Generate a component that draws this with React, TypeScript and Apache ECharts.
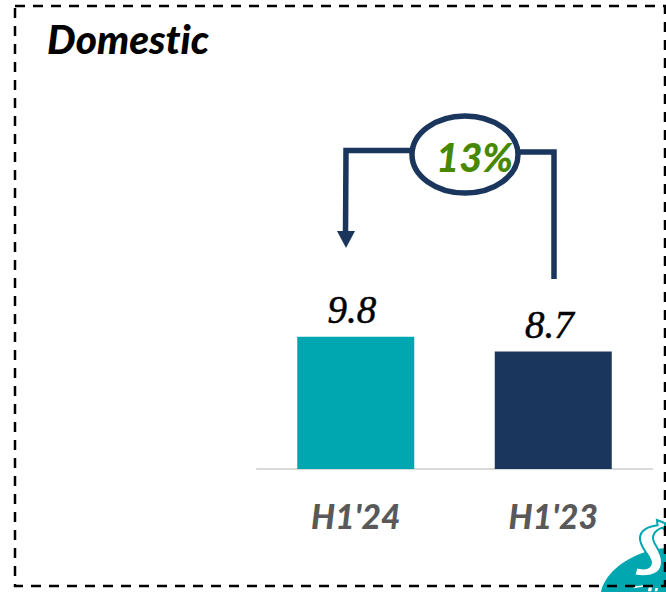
import React, { useEffect, useRef } from "react";
import * as echarts from "echarts";

const categories = ["H1'24", "H1'23"];
const values = [9.8, 8.7];
const barColors = ["#00A7B0", "#1A365D"];
const titleText = "Domestic";
const growthText = "13%";

const NAVY = "#1A365D";
const TEAL = "#00A7B0";

echarts.graphic.registerShape(
  "logoS",
  echarts.graphic.extendPath(
    "M183 12 L208 22 L205 40 L198 35 C175 45 165 60 175 80 C190 105 205 130 195 155 C185 180 150 185 115 178 L122 155 C145 160 165 158 165 140 C165 120 130 95 132 65 C134 45 155 32 185 28 Z",
    {}
  )
);
echarts.graphic.registerShape(
  "logoMarks",
  echarts.graphic.extendPath(
    "M112 212 L150 207 L150 211 L112 217 Z M158 214 L168 214 L166 226 L156 226 Z M178 216 L186 216 L184 226 L176 226 Z",
    {}
  )
);

export default function App() {
  const ref = useRef<HTMLDivElement>(null);
  useEffect(() => {
    const chart = echarts.init(ref.current!, undefined, { renderer: "svg" });
    chart.setOption({
      animation: false,
      backgroundColor: "#ffffff",
      grid: { left: 257, right: 14, top: 307, bottom: 123, containLabel: false },
      xAxis: {
        type: "category",
        data: categories,
        axisLine: { lineStyle: { color: "#D9D9D9", width: 2 } },
        axisTick: { show: false },
        axisLabel: {
          margin: 30,
          fontFamily: "Lato",
          fontWeight: 900,
          fontStyle: "italic",
          fontSize: 33.5,
          color: "#595959",
        },
      },
      yAxis: { type: "value", min: 0, max: 12, show: false, splitLine: { show: false } },
      series: [
        {
          type: "bar",
          barWidth: 117,
          data: values.map((v, i) => ({ value: v, itemStyle: { color: barColors[i] } })),
          label: {
            show: true,
            position: "top",
            distance: 8,
            offset: [-4, 0],
            fontFamily: "Liberation Serif",
            fontStyle: "italic",
            fontSize: 39,
            color: "#000000",
            textBorderColor: "#000000",
            textBorderWidth: 0.5,
            formatter: (p: any) => p.value.toFixed(1),
          },
        },
      ],
      graphic: [
        {
          type: "rect",
          shape: { x: 15, y: 6, width: 650, height: 580 },
          style: { fill: "none", stroke: "#000000", lineWidth: 2.5, lineDash: [10, 8] },
          z: 13,
        },
        {
          type: "text",
          x: 47,
          y: 38,
          style: {
            text: titleText,
            fontFamily: "Lato",
            fontWeight: 900,
            fontStyle: "italic",
            fontSize: 40.5,
            fill: "#000000",
            verticalAlign: "middle",
          },
        },
        {
          type: "polyline",
          shape: { points: [[412, 150.5], [346, 150.5], [345.5, 234]] },
          style: { fill: "none", stroke: NAVY, lineWidth: 5.5 },
        },
        {
          type: "polygon",
          shape: { points: [[337, 231], [355, 231], [346, 248]] },
          style: { fill: NAVY },
        },
        {
          type: "polyline",
          shape: { points: [[520, 152], [554, 152], [554, 279]] },
          style: { fill: "none", stroke: NAVY, lineWidth: 5.5 },
        },
        {
          type: "ellipse",
          shape: { cx: 465, cy: 154.5, rx: 53, ry: 38.5 },
          style: { fill: "#ffffff", stroke: NAVY, lineWidth: 5.5 },
        },
        {
          type: "text",
          x: 474.5,
          y: 157,
          style: {
            text: growthText,
            fontFamily: "Lato",
            fontWeight: 900,
            fontStyle: "italic",
            fontSize: 40,
            fill: "#478800",
            align: "center",
            verticalAlign: "middle",
          },
        },
        {
          type: "ellipse",
          shape: { cx: 0, cy: 0, rx: 58, ry: 37 },
          x: 657,
          y: 587,
          rotation: 0.3,
          style: { fill: TEAL },
          z: 11,
        },
        {
          type: "logoS",
          x: 596,
          y: 516,
          scaleX: 1 / 3,
          scaleY: 1 / 3,
          style: { fill: "#ffffff", stroke: TEAL, lineWidth: 6 },
          z: 12,
        },
        {
          type: "logoMarks",
          x: 596,
          y: 516,
          scaleX: 1 / 3,
          scaleY: 1 / 3,
          style: { fill: "#ffffff" },
          z: 12,
        },
      ],
    });
    return () => chart.dispose();
  }, []);
  return (
    <div
      ref={ref}
      style={{
        position: "fixed",
        left: 0,
        top: 0,
        width: 666,
        height: 592,
        overflow: "hidden",
        fontVariantLigatures: "none",
      }}
    />
  );
}
